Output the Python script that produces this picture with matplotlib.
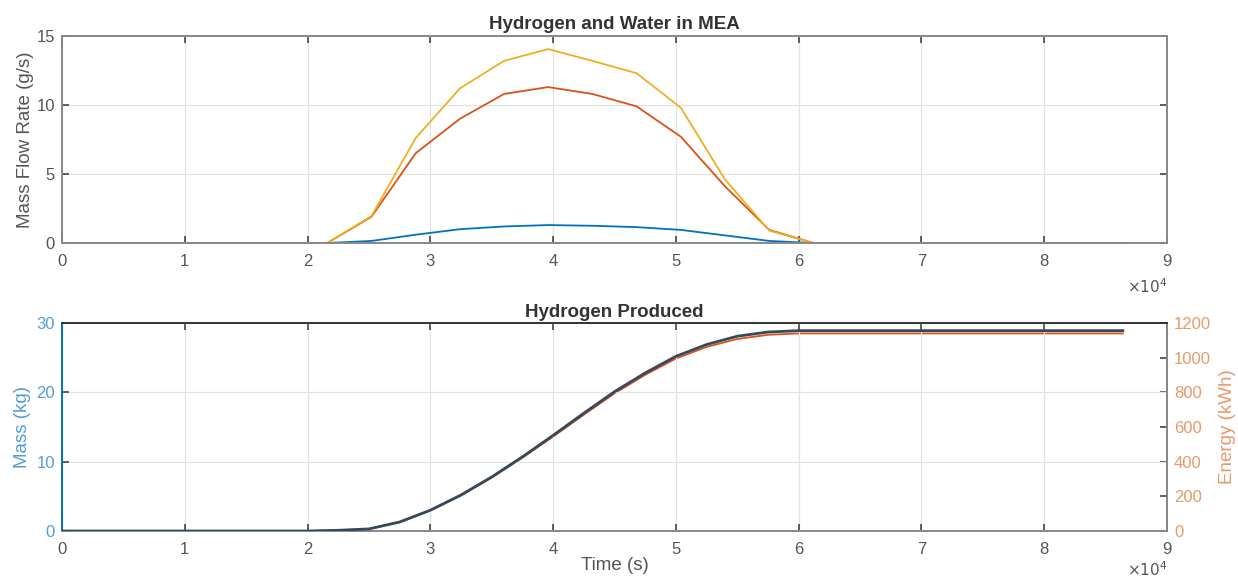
import matplotlib.pyplot as plt
import numpy as np

plt.rcParams['font.family'] = ['Liberation Sans', 'DejaVu Sans']

# Data: hourly flow rates in the MEA (g/s)
hours = list(range(0, 25))
flow_h2 = [0, 0, 0, 0, 0, 0, 0, 0.15, 0.6, 1.0, 1.2, 1.3, 1.25, 1.15, 0.95, 0.55, 0.15, 0, 0, 0, 0, 0, 0, 0, 0]
flow_water_out = [0, 0, 0, 0, 0, 0, 0, 1.9, 6.5, 9.0, 10.8, 11.3, 10.8, 9.9, 7.7, 4.1, 0.95, 0, 0, 0, 0, 0, 0, 0, 0]
flow_water_in = [0, 0, 0, 0, 0, 0, 0, 1.95, 7.6, 11.2, 13.2, 14.05, 13.2, 12.3, 9.8, 4.6, 0.9, 0, 0, 0, 0, 0, 0, 0, 0]

# Data: cumulative hydrogen produced
t_cum = [0, 20000, 22500, 25000, 27500, 30000, 32500, 35000, 37500, 40000, 42500,
         45000, 47500, 50000, 52500, 55000, 57500, 60000, 86400]
mass_kg = [0, 0, 0.1, 0.3, 1.3, 3.0, 5.2, 7.8, 10.7, 13.8, 17.0,
           20.1, 22.8, 25.2, 26.9, 28.1, 28.7, 28.9, 28.9]
energy_kwh = [0, 0, 4, 12, 51, 118, 205, 308, 423, 545, 671,
              794, 901, 995, 1062, 1108, 1132, 1140, 1140]

c_blue = '#0072BD'
c_orange = '#D95319'
c_yellow = '#EDB120'
grey_txt = '#555555'
blue_txt = '#5a9bd0'
orange_txt = '#e69a6a'

t_flow = np.array(hours) * 3600

fig = plt.figure(figsize=(12.38, 5.79), dpi=100)
ax1 = fig.add_axes([0.0501, 0.5803, 0.8926, 0.3575])
ax2 = fig.add_axes([0.0501, 0.0829, 0.8926, 0.3592])


def style(ax, spine_col='#888888'):
    ax.grid(True, color='#e3e3e3', linewidth=0.9)
    ax.set_axisbelow(True)
    for s in ax.spines.values():
        s.set_color(spine_col)
        s.set_linewidth(1.4)
    ax.tick_params(direction='in', length=5, width=1.2, color='#444444',
                   labelcolor=grey_txt, labelsize=12, pad=5)
    ax.tick_params(axis='x', pad=8)
    ax.set_xlim(0, 90000)
    ax.set_xticks(np.arange(0, 90001, 10000))
    ax.set_xticklabels([str(i) for i in range(10)])


# --- top: flow rates ---
style(ax1)
ax1.plot(t_flow, flow_h2, color=c_blue, lw=1.3)
ax1.plot(t_flow, flow_water_out, color=c_orange, lw=1.3)
ax1.plot(t_flow, flow_water_in, color=c_yellow, lw=1.3)
ax1.set_ylim(0, 15)
ax1.set_yticks([0, 5, 10, 15])
ax1.tick_params(top=True, right=True)
ax1.set_ylabel('Mass Flow Rate (g/s)', color=grey_txt, fontsize=13.5, labelpad=2)
ax1.set_title('Hydrogen and Water in MEA', fontsize=13.5, fontweight='bold', color='#333333', pad=5)
ax1.text(1.0, -0.165, r'$\times10^4$', transform=ax1.transAxes, ha='right', va='top',
         color=grey_txt, fontsize=11)

# --- bottom: produced hydrogen ---
style(ax2)
ax2.spines['top'].set_color('#333333')
ax2.spines['left'].set_color(c_blue)
ax2.plot(t_cum, mass_kg, color='#34495e', lw=2.0, zorder=3)
ax2.set_ylim(0, 30)
ax2.set_yticks([0, 10, 20, 30])
ax2.tick_params(top=True)
ax2.tick_params(axis='y', labelcolor=blue_txt)
ax2.set_ylabel('Mass (kg)', color=blue_txt, fontsize=13.5, labelpad=4)
ax2.set_xlabel('Time (s)', color=grey_txt, fontsize=13.5, labelpad=0)
ax2.set_title('Hydrogen Produced', fontsize=13.5, fontweight='bold', color='#333333', pad=4)
ax2.text(1.0, -0.14, r'$\times10^4$', transform=ax2.transAxes, ha='right', va='top',
         color=grey_txt, fontsize=11)

ax3 = ax2.twinx()
ax3.plot(t_cum, energy_kwh, color=c_orange, lw=1.3, zorder=2)
ax3.set_ylim(0, 1200)
ax3.set_yticks(np.arange(0, 1201, 200))
ax3.spines['right'].set_color('#e8a070')
ax3.spines['right'].set_linewidth(1.4)
for k in ['top', 'left', 'bottom']:
    ax3.spines[k].set_visible(False)
ax3.tick_params(direction='in', length=5, width=1.2, color='#444444',
                labelcolor=orange_txt, labelsize=12, pad=5)
ax3.set_ylabel('Energy (kWh)', color=orange_txt, fontsize=13.5, labelpad=6)
ax2.set_zorder(ax3.get_zorder() + 1)
ax2.patch.set_visible(False)

plt.savefig('out.png', dpi=100)
